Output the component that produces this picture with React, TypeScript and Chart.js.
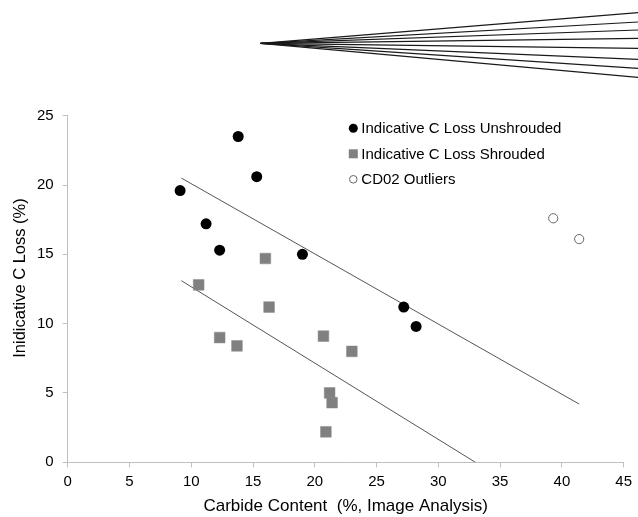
import React, { useEffect, useRef } from 'react';
import { Chart, registerables } from 'chart.js';

Chart.register(...registerables);

// ---- Data ----
const unshroudedX = [9.1, 13.8, 15.3, 11.2, 12.3, 19.0, 27.2, 28.2];
const unshroudedY = [19.6, 23.5, 20.6, 17.2, 15.3, 15.0, 11.2, 9.8];

const shroudedX = [10.6, 16.0, 16.3, 12.3, 13.7, 20.7, 23.0, 21.2, 21.4, 20.9];
const shroudedY = [12.8, 14.7, 11.2, 9.0, 8.4, 9.1, 8.0, 5.0, 4.3, 2.2];

const outlierX = [39.3, 41.4];
const outlierY = [17.6, 16.1];

const upperTrendX = [9.2, 41.4];
const upperTrendY = [20.5, 4.2];
const lowerTrendX = [9.2, 33.0];
const lowerTrendY = [13.1, 0];

const seriesLabels = [
  'Indicative C Loss Unshrouded',
  'Indicative C Loss Shrouded',
  'CD02 Outliers',
];
const xTitle = 'Carbide Content  (%, Image Analysis)';
const yTitle = 'Inidicative C Loss (%)';

// decorative fan of lines at top of the image (end-point y values at right edge)
const fanEndY = [12.7, 22.0, 30.0, 38.3, 48.3, 59.3, 68.3, 77.3];

const FONT = '"Liberation Sans", Arial, Helvetica, sans-serif';

const toPts = (xs: number[], ys: number[]) => xs.map((x, i) => ({ x, y: ys[i] }));

const overlayPlugin = {
  id: 'overlay',
  afterDraw(chart: any) {
    const ctx = chart.ctx as CanvasRenderingContext2D;
    const area = chart.chartArea;
    ctx.save();

    // fan of lines
    ctx.strokeStyle = '#1a1a1a';
    ctx.lineWidth = 1.2;
    const apexX = 260.7;
    const apexY = 43.3;
    fanEndY.forEach((ey) => {
      ctx.beginPath();
      ctx.moveTo(apexX, apexY);
      ctx.lineTo(chart.width, ey);
      ctx.stroke();
    });

    // y axis title
    ctx.save();
    ctx.translate(20.5, 278);
    ctx.rotate(-Math.PI / 2);
    ctx.fillStyle = '#000';
    ctx.font = `16.5px ${FONT}`;
    ctx.textAlign = 'center';
    ctx.textBaseline = 'middle';
    ctx.fillText(yTitle, 0, 0);
    ctx.restore();

    // legend
    const lx = area.left + 285.6;
    const ly0 = area.top + 12.6;
    const step = 25.5;
    ctx.font = `15px ${FONT}`;
    ctx.textAlign = 'left';
    ctx.textBaseline = 'middle';
    seriesLabels.forEach((label, i) => {
      const y = ly0 + i * step;
      if (i === 0) {
        ctx.fillStyle = '#000';
        ctx.beginPath();
        ctx.arc(lx, y, 4.5, 0, Math.PI * 2);
        ctx.fill();
      } else if (i === 1) {
        ctx.fillStyle = '#808080';
        ctx.fillRect(lx - 4.5, y - 4.5, 9, 9);
      } else {
        ctx.strokeStyle = '#666';
        ctx.lineWidth = 1;
        ctx.fillStyle = '#fff';
        ctx.beginPath();
        ctx.arc(lx, y, 3.8, 0, Math.PI * 2);
        ctx.fill();
        ctx.stroke();
      }
      ctx.fillStyle = '#000';
      ctx.fillText(label, lx + 8, y + 1);
    });

    ctx.restore();
  },
};

export default function App() {
  const canvasRef = useRef<HTMLCanvasElement | null>(null);

  useEffect(() => {
    if (!canvasRef.current) return;
    const chart = new Chart(canvasRef.current, {
      type: 'scatter',
      data: {
        datasets: [
          {
            label: seriesLabels[0],
            data: toPts(unshroudedX, unshroudedY),
            pointStyle: 'circle',
            pointRadius: 5.5,
            backgroundColor: '#000',
            borderColor: '#000',
            borderWidth: 0,
          },
          {
            label: seriesLabels[1],
            data: toPts(shroudedX, shroudedY),
            pointStyle: 'rect',
            pointRadius: 7.6,
            backgroundColor: '#808080',
            borderColor: '#8a8a8a',
            borderWidth: 0.5,
          },
          {
            label: seriesLabels[2],
            data: toPts(outlierX, outlierY),
            pointStyle: 'circle',
            pointRadius: 4.6,
            backgroundColor: '#fff',
            borderColor: '#666',
            borderWidth: 1,
          },
          {
            label: 'upper trend',
            data: toPts(upperTrendX, upperTrendY),
            showLine: true,
            pointRadius: 0,
            borderColor: '#555',
            borderWidth: 1,
            backgroundColor: '#555',
          },
          {
            label: 'lower trend',
            data: toPts(lowerTrendX, lowerTrendY),
            showLine: true,
            pointRadius: 0,
            borderColor: '#555',
            borderWidth: 1,
            backgroundColor: '#555',
          },
        ],
      },
      options: {
        responsive: false,
        animation: false,
        events: [],
        layout: { padding: { left: 0, top: 115.7, right: 10.7, bottom: 0 } },
        plugins: {
          legend: { display: false },
          tooltip: { enabled: false },
        },
        scales: {
          x: {
            type: 'linear',
            min: 0,
            max: 45,
            ticks: {
              stepSize: 5,
              color: '#000',
              font: { family: FONT, size: 15 },
              padding: 6,
            },
            grid: {
              drawOnChartArea: false,
              drawTicks: true,
              tickLength: 5,
              color: '#bfbfbf',
            },
            border: { color: '#bfbfbf', width: 1 },
            title: {
              display: true,
              text: xTitle,
              color: '#000',
              font: { family: FONT, size: 17 },
              padding: { top: 0, bottom: 0 },
            },
            afterFit: (scale: any) => {
              scale.height = 54.7;
            },
          },
          y: {
            type: 'linear',
            min: 0,
            max: 25,
            ticks: {
              stepSize: 5,
              color: '#000',
              font: { family: FONT, size: 15 },
              padding: 9,
            },
            grid: {
              drawOnChartArea: false,
              drawTicks: true,
              tickLength: 5,
              color: '#bfbfbf',
            },
            border: { color: '#bfbfbf', width: 1 },
            title: { display: false },
            afterFit: (scale: any) => {
              scale.width = 67.7;
            },
          },
        },
      },
      plugins: [overlayPlugin],
    });
    return () => chart.destroy();
  }, []);

  return (
    <div style={{ position: 'absolute', left: 0, top: 0, width: 638, height: 517, background: '#fff' }}>
      <canvas ref={canvasRef} width={638} height={517} />
    </div>
  );
}
